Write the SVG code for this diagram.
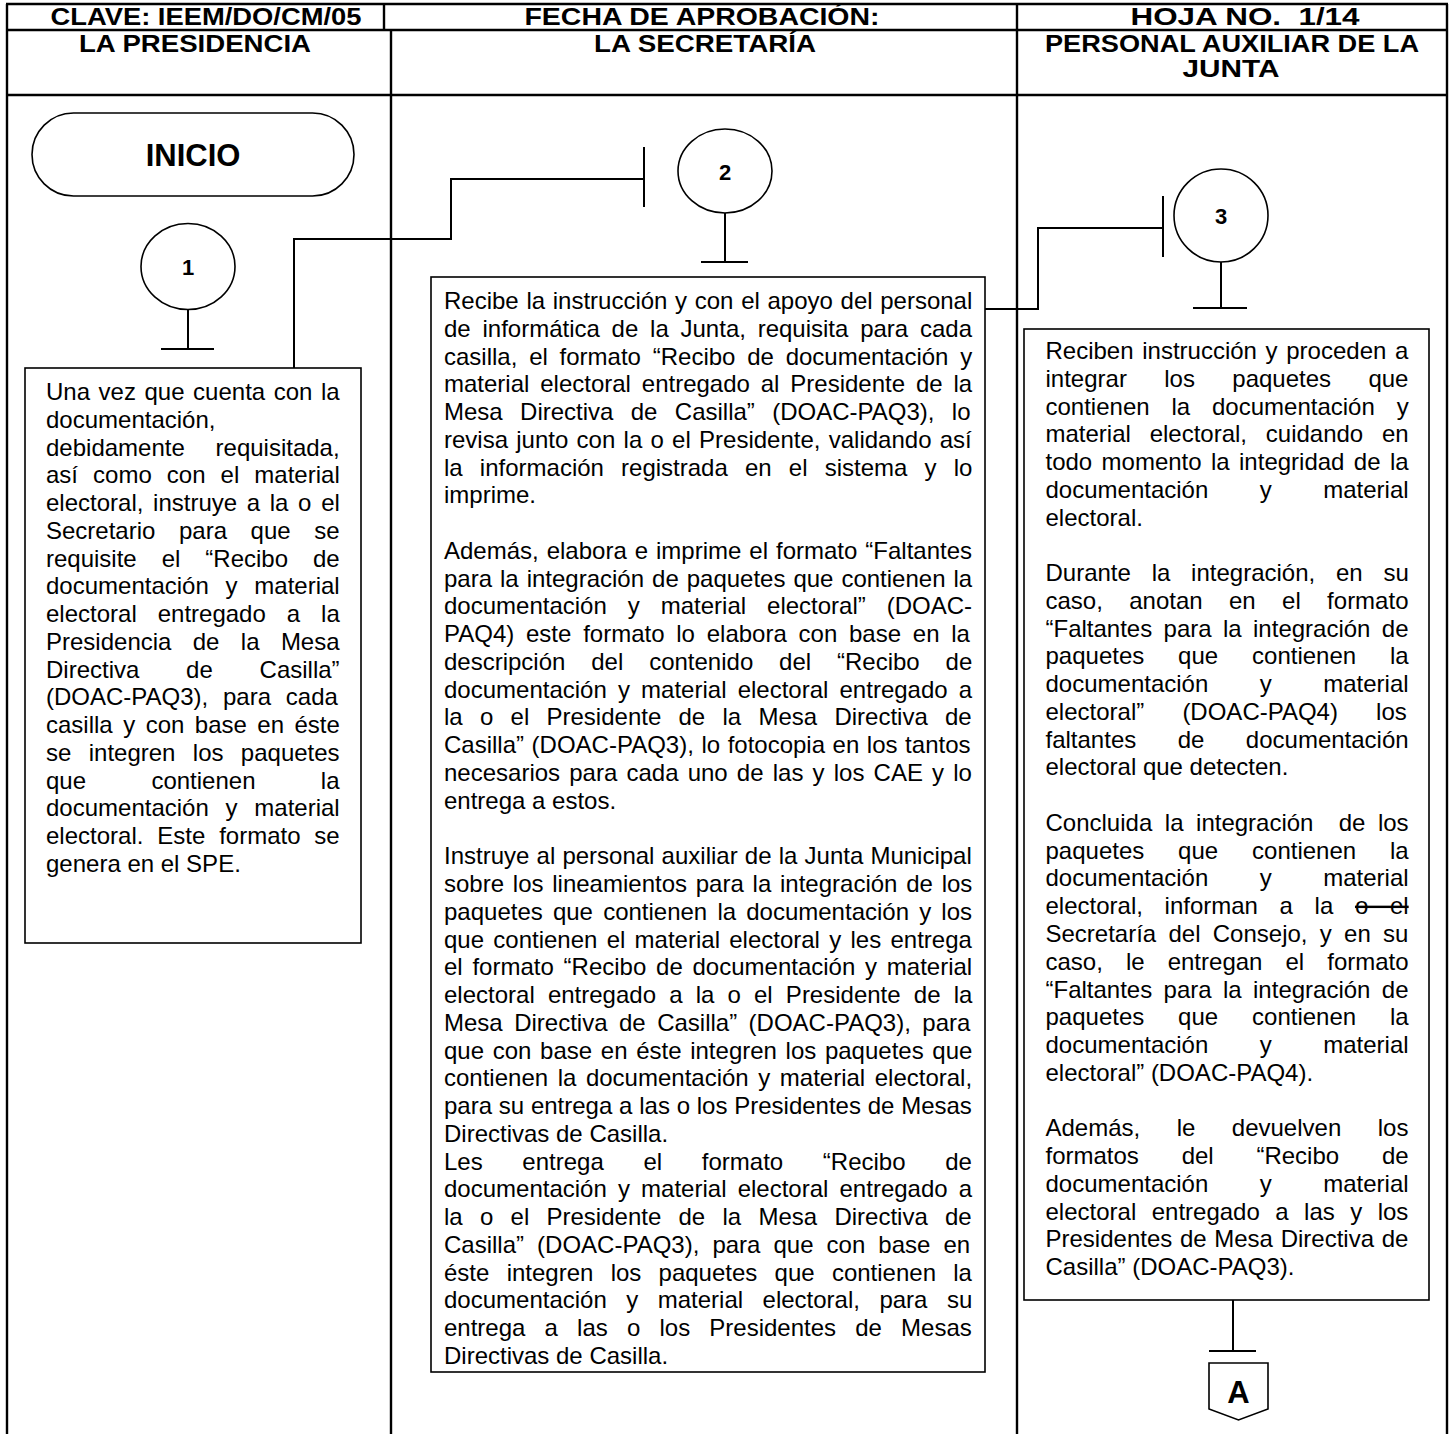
<svg xmlns="http://www.w3.org/2000/svg" width="1455" height="1434" viewBox="0 0 1455 1434">
<style>
.ln{stroke:#000;stroke-width:2.4;fill:none}
.box{fill:#fff;stroke:#000;stroke-width:1.6}
.sh{fill:#fff;stroke:#000;stroke-width:1.6}
.cn{fill:none;stroke:#000;stroke-width:2}
.h{font-family:"Liberation Sans",Arial,sans-serif;font-weight:bold;font-size:24px;text-anchor:middle;fill:#000}
.t{font-family:"Liberation Sans",Arial,sans-serif;font-size:24px;fill:#000}
.n{font-family:"Liberation Sans",Arial,sans-serif;font-weight:bold;font-size:22px;text-anchor:middle;fill:#000}
</style>
<rect width="1455" height="1434" fill="#fff"/>
<g id="table">
<line class="ln" x1="6" y1="4" x2="1448" y2="4"/>
<line class="ln" x1="6" y1="30" x2="1448" y2="30"/>
<line class="ln" x1="6" y1="95" x2="1448" y2="95"/>
<line class="ln" x1="7" y1="4" x2="7" y2="1434"/>
<line class="ln" x1="1447" y1="4" x2="1447" y2="1434"/>
<line class="ln" x1="384" y1="4" x2="384" y2="30"/>
<line class="ln" x1="391" y1="30" x2="391" y2="1434"/>
<line class="ln" x1="1017" y1="4" x2="1017" y2="1434"/>
<text class="h" x="206" y="25" textLength="311" lengthAdjust="spacingAndGlyphs">CLAVE: IEEM/DO/CM/05</text>
<text class="h" x="702" y="25" textLength="355" lengthAdjust="spacingAndGlyphs">FECHA DE APROBACIÓN:</text>
<text class="h" x="1245" y="25" textLength="229" lengthAdjust="spacingAndGlyphs" style="white-space:pre">HOJA NO.  1/14</text>
<text class="h" x="195" y="52" textLength="232" lengthAdjust="spacingAndGlyphs">LA PRESIDENCIA</text>
<text class="h" x="705" y="52" textLength="222" lengthAdjust="spacingAndGlyphs">LA SECRETARÍA</text>
<text class="h" x="1232" y="52" textLength="374" lengthAdjust="spacingAndGlyphs">PERSONAL AUXILIAR DE LA</text>
<text class="h" x="1231" y="77" textLength="97" lengthAdjust="spacingAndGlyphs">JUNTA</text>
</g>
<g id="connectors">
<polyline class="cn" points="294,368 294,239 451,239 451,179 644,179"/>
<line class="cn" x1="644" y1="147" x2="644" y2="207"/>
<polyline class="cn" points="985,309 1038,309 1038,228 1163,228"/>
<line class="cn" x1="1163" y1="196" x2="1163" y2="257"/>
<line class="cn" x1="188" y1="309" x2="188" y2="349"/>
<line class="cn" x1="161" y1="349" x2="214" y2="349"/>
<line class="cn" x1="725" y1="213" x2="725" y2="262"/>
<line class="cn" x1="701" y1="262" x2="748" y2="262"/>
<line class="cn" x1="1221" y1="262" x2="1221" y2="308"/>
<line class="cn" x1="1193" y1="308" x2="1247" y2="308"/>
<line class="cn" x1="1233" y1="1300" x2="1233" y2="1351"/>
<line class="cn" x1="1209" y1="1351" x2="1256" y2="1351"/>
</g>
<g id="inicio">
<rect class="sh" x="32" y="113" width="322" height="83" rx="41.5" ry="41.5"/>
<text x="193" y="166" style="font-family:'Liberation Sans',Arial,sans-serif;font-weight:bold;font-size:31px;text-anchor:middle">INICIO</text>
</g>
<g id="c1">
<ellipse class="sh" cx="188" cy="266.5" rx="47" ry="43"/>
<text class="n" x="188" y="275">1</text>
</g>
<g id="c2">
<ellipse class="sh" cx="725" cy="171" rx="47" ry="42"/>
<text class="n" x="725" y="180">2</text>
</g>
<g id="c3">
<ellipse class="sh" cx="1221" cy="215.5" rx="47" ry="46.5"/>
<text class="n" x="1221" y="224">3</text>
</g>
<g id="box1">
<rect class="box" x="25" y="368" width="336" height="575"/>
<text class="t" x="46" y="400" style="word-spacing:1.9px">Una vez que cuenta con la</text>
<text class="t" x="46" y="427.8">documentación,</text>
<text class="t" x="46" y="455.5" style="word-spacing:24.1px">debidamente requisitada,</text>
<text class="t" x="46" y="483.3" style="word-spacing:8.4px">así como con el material</text>
<text class="t" x="46" y="511" style="word-spacing:3px">electoral, instruye a la o el</text>
<text class="t" x="46" y="538.8" style="word-spacing:16.9px">Secretario para que se</text>
<text class="t" x="46" y="566.6" style="word-spacing:18.3px">requisite el “Recibo de</text>
<text class="t" x="46" y="594.3" style="word-spacing:10.1px">documentación y material</text>
<text class="t" x="46" y="622.1" style="word-spacing:14.3px">electoral entregado a la</text>
<text class="t" x="46" y="649.8" style="word-spacing:14.7px">Presidencia de la Mesa</text>
<text class="t" x="46" y="677.6" style="word-spacing:40.1px">Directiva de Casilla”</text>
<text class="t" x="46" y="705.4" style="word-spacing:8.1px">(DOAC-PAQ3), para cada</text>
<text class="t" x="46" y="733.1" style="word-spacing:3.8px">casilla y con base en éste</text>
<text class="t" x="46" y="760.9" style="word-spacing:10.7px">se integren los paquetes</text>
<text class="t" x="46" y="788.6" style="word-spacing:58.7px">que contienen la</text>
<text class="t" x="46" y="816.4" style="word-spacing:10.1px">documentación y material</text>
<text class="t" x="46" y="844.2" style="word-spacing:7.2px">electoral. Este formato se</text>
<text class="t" x="46" y="871.9">genera en el SPE.</text>
</g>
<g id="box2">
<rect class="box" x="431" y="277" width="554" height="1095"/>
<text class="t" x="444" y="309" style="word-spacing:1px">Recibe la instrucción y con el apoyo del personal</text>
<text class="t" x="444" y="336.8" style="word-spacing:5.1px">de informática de la Junta, requisita para cada</text>
<text class="t" x="444" y="364.5" style="word-spacing:5.1px">casilla, el formato “Recibo de documentación y</text>
<text class="t" x="444" y="392.3" style="word-spacing:4.2px">material electoral entregado al Presidente de la</text>
<text class="t" x="444" y="420" style="word-spacing:10.7px">Mesa Directiva de Casilla” (DOAC-PAQ3), lo</text>
<text class="t" x="444" y="447.8" style="word-spacing:1.6px">revisa junto con la o el Presidente, validando así</text>
<text class="t" x="444" y="475.6" style="word-spacing:10.5px">la información registrada en el sistema y lo</text>
<text class="t" x="444" y="503.3">imprime.</text>
<text class="t" x="444" y="558.8" style="word-spacing:1.3px">Además, elabora e imprime el formato “Faltantes</text>
<text class="t" x="444" y="586.6" style="word-spacing:1.3px">para la integración de paquetes que contienen la</text>
<text class="t" x="444" y="614.4" style="word-spacing:14.3px">documentación y material electoral” (DOAC-</text>
<text class="t" x="444" y="642.1" style="word-spacing:5.1px">PAQ4) este formato lo elabora con base en la</text>
<text class="t" x="444" y="669.9" style="word-spacing:19.2px">descripción del contenido del “Recibo de</text>
<text class="t" x="444" y="697.6" style="word-spacing:4.5px">documentación y material electoral entregado a</text>
<text class="t" x="444" y="725.4" style="word-spacing:10.6px">la o el Presidente de la Mesa Directiva de</text>
<text class="t" x="444" y="753.2" style="word-spacing:0.9px">Casilla” (DOAC-PAQ3), lo fotocopia en los tantos</text>
<text class="t" x="444" y="780.9" style="word-spacing:2.5px">necesarios para cada uno de las y los CAE y lo</text>
<text class="t" x="444" y="808.7">entrega a estos.</text>
<text class="t" x="444" y="864.2" style="word-spacing:0.5px">Instruye al personal auxiliar de la Junta Municipal</text>
<text class="t" x="444" y="892" style="word-spacing:2.1px">sobre los lineamientos para la integración de los</text>
<text class="t" x="444" y="919.7" style="word-spacing:3.5px">paquetes que contienen la documentación y los</text>
<text class="t" x="444" y="947.5" style="word-spacing:2.6px">que contienen el material electoral y les entrega</text>
<text class="t" x="444" y="975.2" style="word-spacing:3.1px">el formato “Recibo de documentación y material</text>
<text class="t" x="444" y="1003" style="word-spacing:6.5px">electoral entregado a la o el Presidente de la</text>
<text class="t" x="444" y="1030.8" style="word-spacing:4.8px">Mesa Directiva de Casilla” (DOAC-PAQ3), para</text>
<text class="t" x="444" y="1058.5" style="word-spacing:2px">que con base en éste integren los paquetes que</text>
<text class="t" x="444" y="1086.3" style="word-spacing:2.9px">contienen la documentación y material electoral,</text>
<text class="t" x="444" y="1114" style="word-spacing:0.1px">para su entrega a las o los Presidentes de Mesas</text>
<text class="t" x="444" y="1141.8">Directivas de Casilla.</text>
<text class="t" x="444" y="1169.6" style="word-spacing:33px">Les entrega el formato “Recibo de</text>
<text class="t" x="444" y="1197.3" style="word-spacing:4.5px">documentación y material electoral entregado a</text>
<text class="t" x="444" y="1225.1" style="word-spacing:10.6px">la o el Presidente de la Mesa Directiva de</text>
<text class="t" x="444" y="1252.8" style="word-spacing:6.4px">Casilla” (DOAC-PAQ3), para que con base en</text>
<text class="t" x="444" y="1280.6" style="word-spacing:10.6px">éste integren los paquetes que contienen la</text>
<text class="t" x="444" y="1308.4" style="word-spacing:12.8px">documentación y material electoral, para su</text>
<text class="t" x="444" y="1336.1" style="word-spacing:12.5px">entrega a las o los Presidentes de Mesas</text>
<text class="t" x="444" y="1363.9">Directivas de Casilla.</text>
</g>
<g id="box3">
<rect class="box" x="1024" y="329" width="405" height="971"/>
<text class="t" x="1045.5" y="359" style="word-spacing:2px">Reciben instrucción y proceden a</text>
<text class="t" x="1045.5" y="386.8" style="word-spacing:30.7px">integrar los paquetes que</text>
<text class="t" x="1045.5" y="414.5" style="word-spacing:15.2px">contienen la documentación y</text>
<text class="t" x="1045.5" y="442.3" style="word-spacing:12.1px">material electoral, cuidando en</text>
<text class="t" x="1045.5" y="470" style="word-spacing:2.7px">todo momento la integridad de la</text>
<text class="t" x="1045.5" y="497.8" style="word-spacing:44.8px">documentación y material</text>
<text class="t" x="1045.5" y="525.6">electoral.</text>
<text class="t" x="1045.5" y="581.1" style="word-spacing:14.1px">Durante la integración, en su</text>
<text class="t" x="1045.5" y="608.8" style="word-spacing:19.7px">caso, anotan en el formato</text>
<text class="t" x="1045.5" y="636.6" style="word-spacing:4.7px">“Faltantes para la integración de</text>
<text class="t" x="1045.5" y="664.4" style="word-spacing:27.2px">paquetes que contienen la</text>
<text class="t" x="1045.5" y="692.1" style="word-spacing:44.8px">documentación y material</text>
<text class="t" x="1045.5" y="719.9" style="word-spacing:31.5px">electoral” (DOAC-PAQ4) los</text>
<text class="t" x="1045.5" y="747.6" style="word-spacing:34.8px">faltantes de documentación</text>
<text class="t" x="1045.5" y="775.4">electoral que detecten.</text>
<text class="t" x="1045.5" y="830.9" style="word-spacing:5.9px">Concluida la integración<tspan dx="12.6"> de los</tspan></text>
<text class="t" x="1045.5" y="858.7" style="word-spacing:27.2px">paquetes que contienen la</text>
<text class="t" x="1045.5" y="886.4" style="word-spacing:44.8px">documentación y material</text>
<text class="t" x="1045.5" y="914.2" style="word-spacing:15px">electoral, informan a la <tspan style="text-decoration:line-through">o el</tspan></text>
<text class="t" x="1045.5" y="942" style="word-spacing:5.6px">Secretaría del Consejo, y en su</text>
<text class="t" x="1045.5" y="969.7" style="word-spacing:16.4px">caso, le entregan el formato</text>
<text class="t" x="1045.5" y="997.5" style="word-spacing:4.7px">“Faltantes para la integración de</text>
<text class="t" x="1045.5" y="1025.2" style="word-spacing:27.2px">paquetes que contienen la</text>
<text class="t" x="1045.5" y="1053" style="word-spacing:44.8px">documentación y material</text>
<text class="t" x="1045.5" y="1080.8">electoral” (DOAC-PAQ4).</text>
<text class="t" x="1045.5" y="1136.3" style="word-spacing:29.8px">Además, le devuelven los</text>
<text class="t" x="1045.5" y="1164" style="word-spacing:36.1px">formatos del “Recibo de</text>
<text class="t" x="1045.5" y="1191.8" style="word-spacing:44.8px">documentación y material</text>
<text class="t" x="1045.5" y="1219.6" style="word-spacing:8.8px">electoral entregado a las y los</text>
<text class="t" x="1045.5" y="1247.3" style="word-spacing:1px">Presidentes de Mesa Directiva de</text>
<text class="t" x="1045.5" y="1275.1">Casilla” (DOAC-PAQ3).</text>
</g>
<g id="offpage-a">
<polygon class="sh" points="1209,1363 1268,1363 1268,1409 1238.5,1420 1209,1409"/>
<text x="1238.5" y="1403" style="font-family:'Liberation Sans',Arial,sans-serif;font-weight:bold;font-size:31px;text-anchor:middle">A</text>
</g>
</svg>
